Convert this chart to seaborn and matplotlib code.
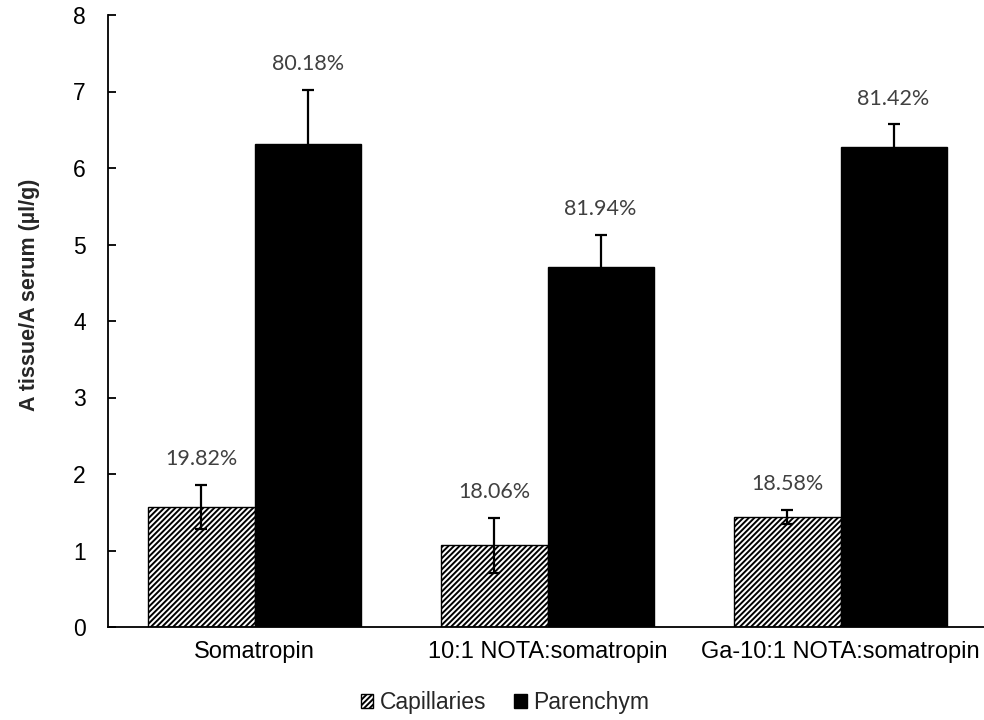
import matplotlib
matplotlib.use("Agg")
import matplotlib.pyplot as plt
import seaborn as sns
import pandas as pd
import numpy as np
from matplotlib.patches import Patch

categories = ["Somatropin", "10:1 NOTA:somatropin", "Ga-10:1 NOTA:somatropin"]
series = ["Capillaries", "Parenchym"]
capillaries = [1.57, 1.07, 1.44]
parenchym = [6.31, 4.70, 6.27]
cap_err = [0.29, 0.36, 0.09]
par_err = [0.71, 0.43, 0.30]
cap_labels = ["19.82%", "18.06%", "18.58%"]
par_labels = ["80.18%", "81.94%", "81.42%"]

sns.set_theme(style="white")
plt.rcParams["font.family"] = ["Liberation Sans", "DejaVu Sans"]
plt.rcParams["hatch.linewidth"] = 1.4
plt.rcParams["hatch.color"] = "black"

df = pd.DataFrame({
    "category": categories * 2,
    "series": [series[0]] * 3 + [series[1]] * 3,
    "value": capillaries + parenchym,
})

fig = plt.figure(figsize=(9.84, 7.20), dpi=100)
ax = fig.add_axes([108 / 984, 1 - 627 / 720, 879 / 984, (627 - 15) / 720])

sns.barplot(data=df, x="category", y="value", hue="series", order=categories,
            hue_order=series, palette={"Capillaries": "white", "Parenchym": "black"},
            edgecolor="black", linewidth=1.0, width=0.725, errorbar=None,
            legend=False, ax=ax)

errs = [cap_err, par_err]
labels = [cap_labels, par_labels]
bar_conts = list(ax.containers)
for ci, cont in enumerate(bar_conts):
    xs, ys = [], []
    for bar in cont.patches:
        xs.append(bar.get_x() + bar.get_width() / 2)
        ys.append(bar.get_height())
        if ci == 0:
            bar.set_hatch("//////")
    ax.errorbar(xs, ys, yerr=errs[ci], fmt="none", ecolor="black",
                elinewidth=1.6, capsize=4.5, capthick=1.6, zorder=5)
    for x, y, e, t in zip(xs, ys, errs[ci], labels[ci]):
        ax.annotate(t, (x, y + e), xytext=(0, 18.5), textcoords="offset points",
                    ha="center", va="center", fontsize=15.5, color="#404040",
                    family=["Lato", "DejaVu Sans"])

ax.set_ylim(0, 8)
ax.set_xlim(-0.5, 2.5)
ax.set_yticks(range(0, 9))
ax.set_xlabel("")
ax.set_ylabel("A tissue/A serum (µl/g)", fontsize=15.5, fontweight="bold")
ax.yaxis.set_label_coords(-0.077, 0.542)
for s in ["top", "right"]:
    ax.spines[s].set_visible(False)
for s in ["left", "bottom"]:
    ax.spines[s].set_color("black")
    ax.spines[s].set_linewidth(1.3)
ax.tick_params(axis="y", which="both", left=True, direction="in", length=5.5, width=1.3,
               color="black", labelsize=16.5, pad=16, labelcolor="black")
ax.tick_params(axis="x", bottom=False, labelsize=17, pad=4, labelcolor="black")
ax.grid(False)

handles = [Patch(facecolor="white", edgecolor="black", hatch="//////", label="Capillaries"),
           Patch(facecolor="black", edgecolor="black", label="Parenchym")]
fig.legend(handles=handles, loc="center", bbox_to_anchor=(505 / 984, 1 - 703 / 720),
           ncol=2, frameon=False, fontsize=16.5, handlelength=0.55, handleheight=0.55,
           handletextpad=0.3, columnspacing=1.2)

fig.savefig("out.png", dpi=100)
